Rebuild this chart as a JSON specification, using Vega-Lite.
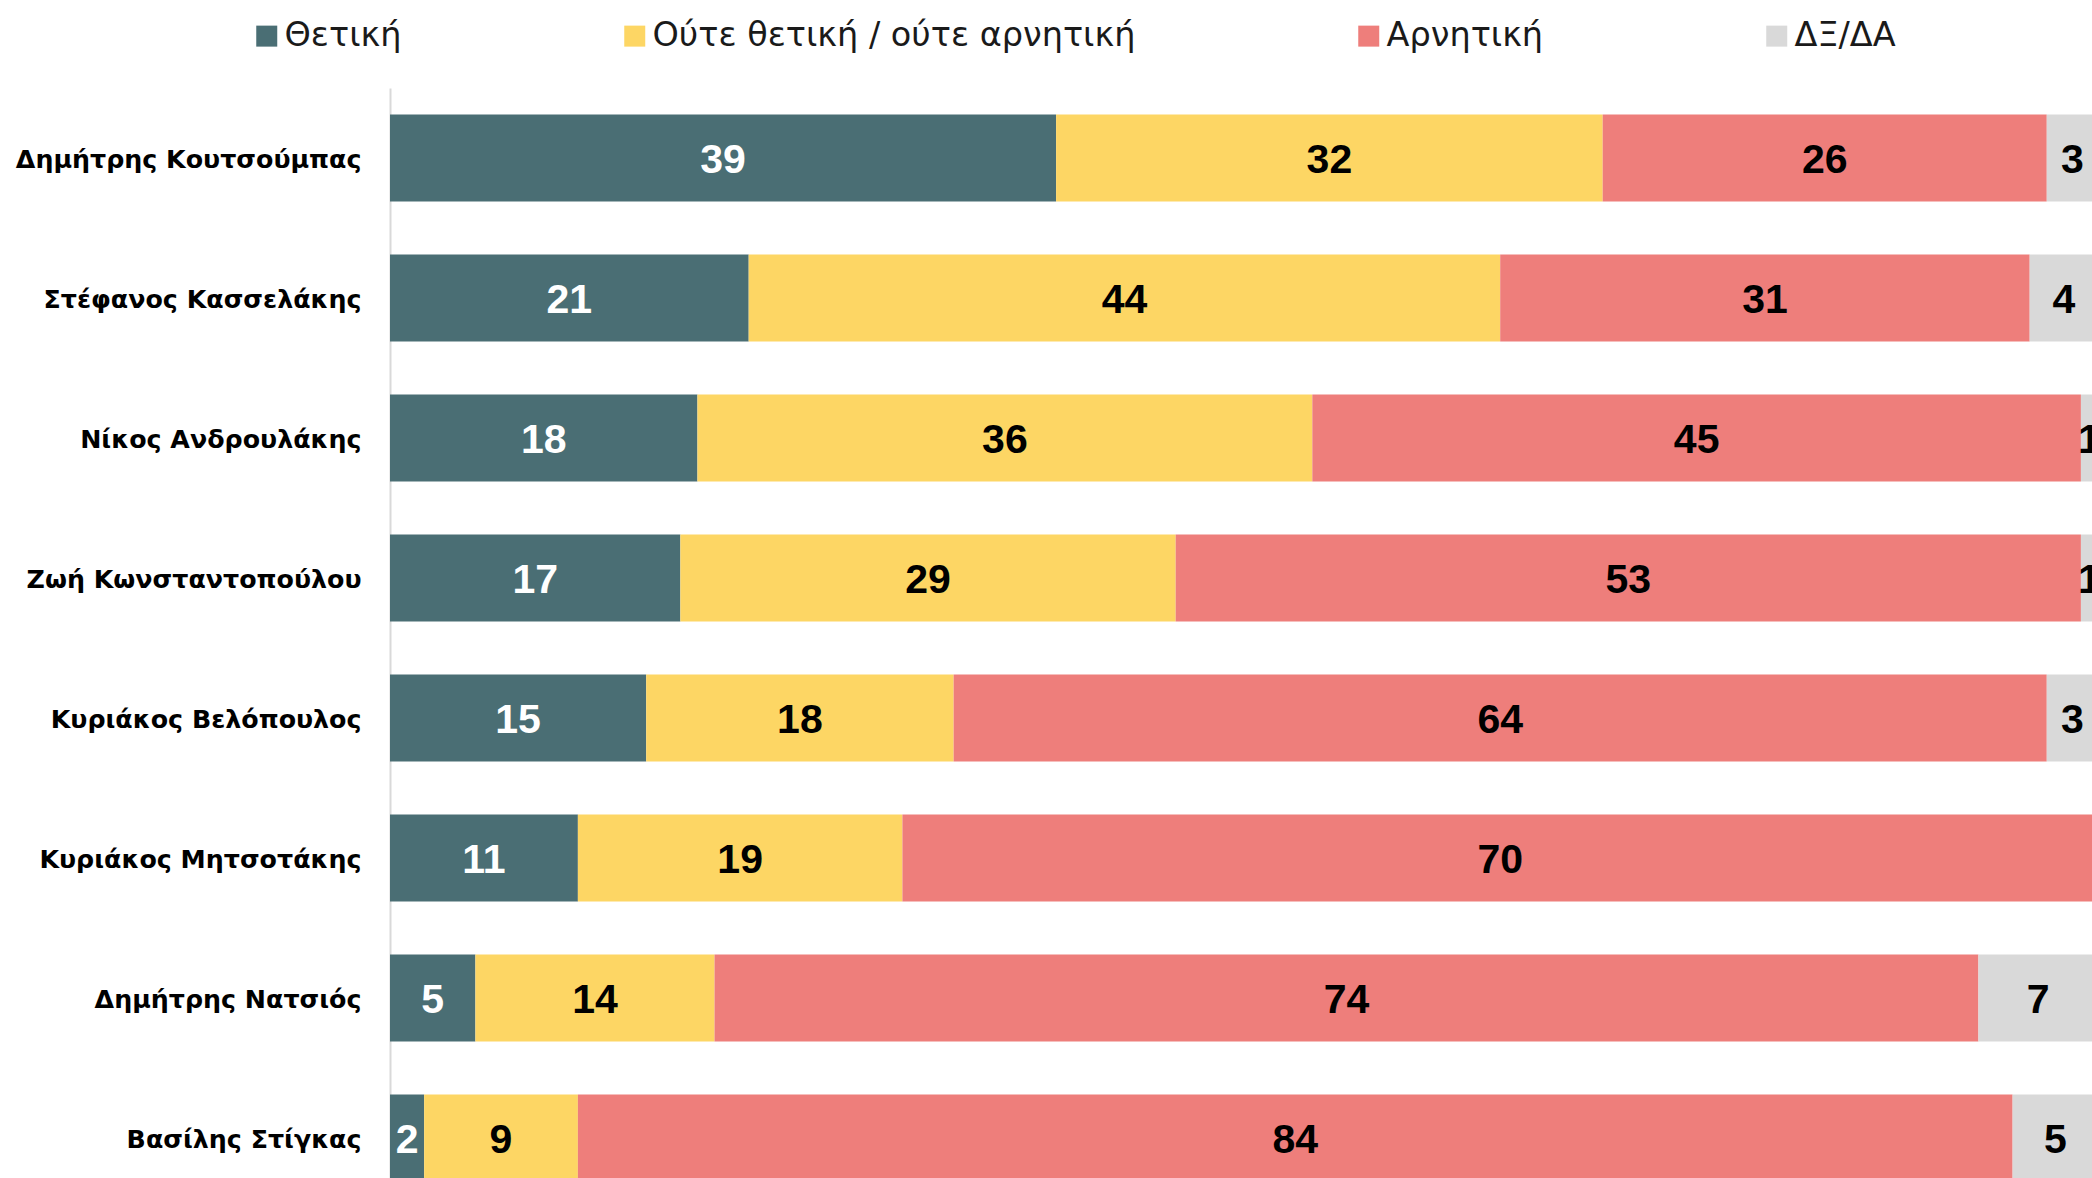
{
  "$schema": "https://vega.github.io/schema/vega-lite/v6.json",
  "autosize": {"type": "none"},
  "padding": {"left": 390, "top": 88, "right": 0, "bottom": 0},
  "width": 1702,
  "height": 1090,
  "background": "white",
  "config": {"view": {"stroke": null}},
  "data": {
    "values": [
      {"name": "Δημήτρης Κουτσούμπας", "cat": "Θετική", "ord": 1, "value": 39},
      {"name": "Δημήτρης Κουτσούμπας", "cat": "Ούτε θετική / ούτε αρνητική", "ord": 2, "value": 32},
      {"name": "Δημήτρης Κουτσούμπας", "cat": "Αρνητική", "ord": 3, "value": 26},
      {"name": "Δημήτρης Κουτσούμπας", "cat": "ΔΞ/ΔΑ", "ord": 4, "value": 3},
      {"name": "Στέφανος Κασσελάκης", "cat": "Θετική", "ord": 1, "value": 21},
      {"name": "Στέφανος Κασσελάκης", "cat": "Ούτε θετική / ούτε αρνητική", "ord": 2, "value": 44},
      {"name": "Στέφανος Κασσελάκης", "cat": "Αρνητική", "ord": 3, "value": 31},
      {"name": "Στέφανος Κασσελάκης", "cat": "ΔΞ/ΔΑ", "ord": 4, "value": 4},
      {"name": "Νίκος Ανδρουλάκης", "cat": "Θετική", "ord": 1, "value": 18},
      {"name": "Νίκος Ανδρουλάκης", "cat": "Ούτε θετική / ούτε αρνητική", "ord": 2, "value": 36},
      {"name": "Νίκος Ανδρουλάκης", "cat": "Αρνητική", "ord": 3, "value": 45},
      {"name": "Νίκος Ανδρουλάκης", "cat": "ΔΞ/ΔΑ", "ord": 4, "value": 1},
      {"name": "Ζωή Κωνσταντοπούλου", "cat": "Θετική", "ord": 1, "value": 17},
      {"name": "Ζωή Κωνσταντοπούλου", "cat": "Ούτε θετική / ούτε αρνητική", "ord": 2, "value": 29},
      {"name": "Ζωή Κωνσταντοπούλου", "cat": "Αρνητική", "ord": 3, "value": 53},
      {"name": "Ζωή Κωνσταντοπούλου", "cat": "ΔΞ/ΔΑ", "ord": 4, "value": 1},
      {"name": "Κυριάκος Βελόπουλος", "cat": "Θετική", "ord": 1, "value": 15},
      {"name": "Κυριάκος Βελόπουλος", "cat": "Ούτε θετική / ούτε αρνητική", "ord": 2, "value": 18},
      {"name": "Κυριάκος Βελόπουλος", "cat": "Αρνητική", "ord": 3, "value": 64},
      {"name": "Κυριάκος Βελόπουλος", "cat": "ΔΞ/ΔΑ", "ord": 4, "value": 3},
      {"name": "Κυριάκος Μητσοτάκης", "cat": "Θετική", "ord": 1, "value": 11},
      {"name": "Κυριάκος Μητσοτάκης", "cat": "Ούτε θετική / ούτε αρνητική", "ord": 2, "value": 19},
      {"name": "Κυριάκος Μητσοτάκης", "cat": "Αρνητική", "ord": 3, "value": 70},
      {"name": "Κυριάκος Μητσοτάκης", "cat": "ΔΞ/ΔΑ", "ord": 4, "value": 0},
      {"name": "Δημήτρης Νατσιός", "cat": "Θετική", "ord": 1, "value": 5},
      {"name": "Δημήτρης Νατσιός", "cat": "Ούτε θετική / ούτε αρνητική", "ord": 2, "value": 14},
      {"name": "Δημήτρης Νατσιός", "cat": "Αρνητική", "ord": 3, "value": 74},
      {"name": "Δημήτρης Νατσιός", "cat": "ΔΞ/ΔΑ", "ord": 4, "value": 7},
      {"name": "Βασίλης Στίγκας", "cat": "Θετική", "ord": 1, "value": 2},
      {"name": "Βασίλης Στίγκας", "cat": "Ούτε θετική / ούτε αρνητική", "ord": 2, "value": 9},
      {"name": "Βασίλης Στίγκας", "cat": "Αρνητική", "ord": 3, "value": 84},
      {"name": "Βασίλης Στίγκας", "cat": "ΔΞ/ΔΑ", "ord": 4, "value": 5}
    ]
  },
  "encoding": {
    "y": {
      "field": "name",
      "type": "nominal",
      "sort": null,
      "scale": {"range": [0, 1120], "paddingInner": 0.38, "paddingOuter": 0.19},
      "axis": {
        "title": null,
        "ticks": false,
        "domain": true,
        "domainColor": "#d9d9d9",
        "domainWidth": 2,
        "labelFont": "DejaVu Sans",
        "labelFontWeight": "bold",
        "labelFontSize": 25.3,
        "labelColor": "#000000",
        "labelPadding": 29,
        "labelLimit": 400,
        "labelOffset": 2
      }
    },
    "x": {
      "field": "value",
      "type": "quantitative",
      "stack": "zero",
      "scale": {"domain": [0, 100], "range": [0, 1708], "nice": false},
      "axis": null
    },
    "order": {"field": "ord", "type": "quantitative"}
  },
  "layer": [
    {
      "mark": {"type": "bar"},
      "encoding": {
        "color": {
          "field": "cat",
          "type": "nominal",
          "scale": {
            "domain": ["Θετική", "Ούτε θετική / ούτε αρνητική", "Αρνητική", "ΔΞ/ΔΑ"],
            "range": ["#4a6e74", "#fdd664", "#ee7e7b", "#d9d9d9"]
          },
          "legend": {
            "title": null,
            "orient": "none",
            "direction": "horizontal",
            "legendX": -140,
            "legendY": -69,
            "symbolType": "square",
            "symbolSize": 441,
            "symbolStrokeWidth": 0,
            "symbolOpacity": 1,
            "labelFont": "DejaVu Sans",
            "labelFontSize": 33.5,
            "labelColor": "#1a1a1a",
            "labelOffset": 1,
            "columnPadding": 216,
            "labelLimit": 800
          }
        }
      }
    },
    {
      "transform": [{"filter": "datum.value > 0"}],
      "mark": {"type": "text", "font": "Liberation Sans", "fontWeight": "bold", "fontSize": 41, "align": "center", "baseline": "middle", "dy": 3},
      "encoding": {
        "x": {"field": "value", "type": "quantitative", "stack": "zero", "bandPosition": 0.5},
        "text": {"field": "value", "type": "quantitative"},
        "color": {
          "condition": {"test": "datum.cat === 'Θετική'", "value": "#ffffff"},
          "value": "#000000"
        }
      }
    }
  ]
}
